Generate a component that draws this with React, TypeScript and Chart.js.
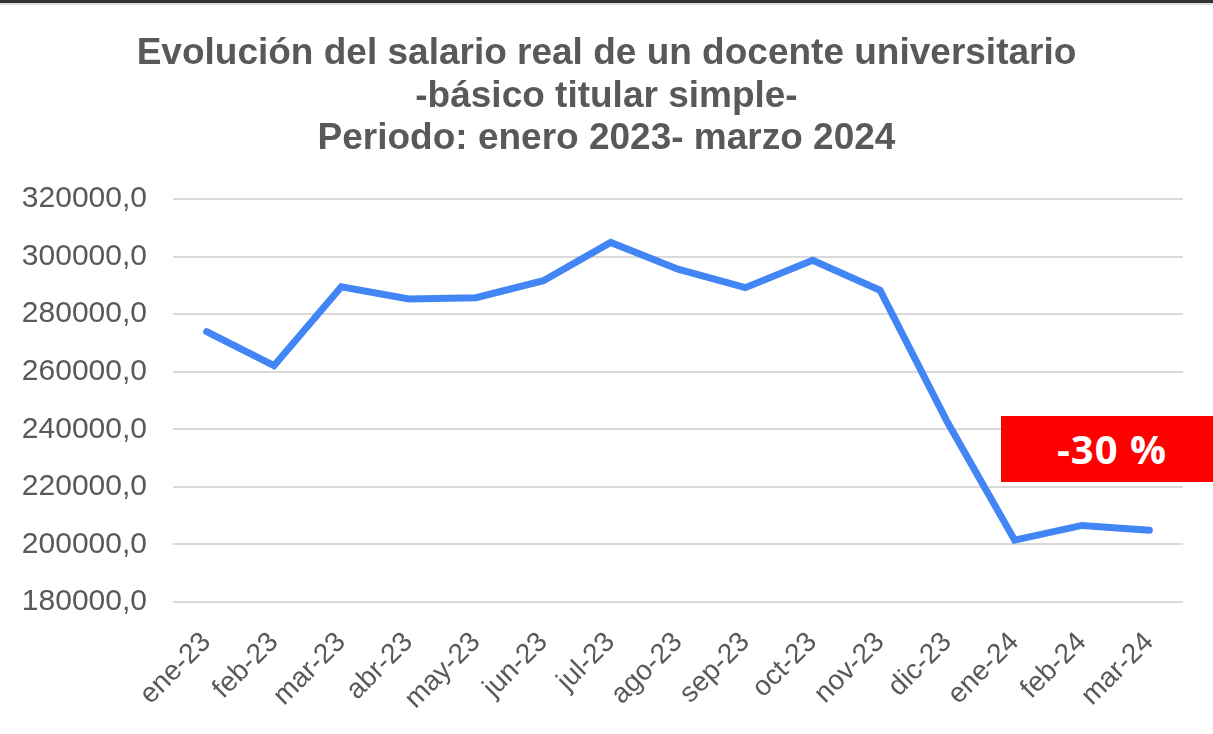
import React, { useEffect, useRef } from "react";
import { Chart, registerables } from "chart.js";

Chart.register(...registerables);

const titleLines = [
  "Evolución del salario real de un docente universitario",
  "-básico titular simple-",
  "Periodo: enero 2023- marzo 2024",
];

const categories = [
  "ene-23", "feb-23", "mar-23", "abr-23", "may-23", "jun-23", "jul-23",
  "ago-23", "sep-23", "oct-23", "nov-23", "dic-23", "ene-24", "feb-24", "mar-24",
];

const salarioReal = [
  273900, 262100, 289500, 285300, 285700, 291600, 304900,
  295600, 289200, 298700, 288300, 242500, 201500, 206600, 204900,
];

const yMin = 180000;
const yMax = 320000;
const yStep = 20000;

const annotationText = "-30 %";

export default function App() {
  const canvasRef = useRef<HTMLCanvasElement | null>(null);

  useEffect(() => {
    const canvas = canvasRef.current;
    if (!canvas) return;
    const chart = new Chart(canvas, {
      type: "line",
      data: {
        labels: categories,
        datasets: [
          {
            label: "Salario real",
            data: salarioReal,
            borderColor: "#4285f4",
            backgroundColor: "#4285f4",
            borderWidth: 7,
            pointRadius: 0,
            tension: 0,
            borderCapStyle: "round",
            borderJoinStyle: "miter",
          },
        ],
      },
      options: {
        responsive: false,
        animation: false,
        layout: { padding: { left: 0, right: 30, top: 199, bottom: 0 } },
        plugins: {
          legend: { display: false },
          tooltip: { enabled: false },
          title: { display: false },
        },
        scales: {
          x: {
            offset: true,
            grid: { display: false, drawTicks: false },
            border: { display: false },
            ticks: {
              color: "#595959",
              font: { family: "'Liberation Sans', Arial, sans-serif", size: 28 },
              minRotation: 45,
              maxRotation: 45,
              padding: 24,
              autoSkip: false,
            },
            afterFit: (scale: any) => {
              scale.height = 132;
            },
          },
          y: {
            min: yMin,
            max: yMax,
            grid: { color: "#d9d9d9", lineWidth: 2, drawTicks: false },
            border: { display: false },
            ticks: {
              stepSize: yStep,
              color: "#595959",
              font: { family: "'Liberation Sans', Arial, sans-serif", size: 30 },
              padding: 26,
              callback: (v: any) => Number(v).toFixed(1).replace(".", ","),
            },
            afterFit: (scale: any) => {
              scale.width = 173;
            },
          },
        },
      },
    });
    return () => chart.destroy();
  }, []);

  return (
    <div style={{ position: "absolute", left: 0, top: 0, width: 1213, height: 734, background: "#ffffff", overflow: "hidden" }}>
      <canvas ref={canvasRef} width={1213} height={734} style={{ display: "block" }} />
      <div style={{ position: "absolute", left: 0, top: 0, width: 1213, height: 3, background: "#333333" }} />
      <div style={{ position: "absolute", left: 0, top: 3, width: 1213, height: 2, background: "#e0e0e0" }} />
      <div
        style={{
          position: "absolute",
          left: 0,
          top: 31,
          width: 1213,
          textAlign: "center",
          color: "#595959",
          fontFamily: "'Liberation Sans', Arial, sans-serif",
          fontWeight: 700,
          fontSize: 37,
          lineHeight: "42.5px",
        }}
      >
        {titleLines.map((t, i) => (
          <div key={i}>{t}</div>
        ))}
      </div>
      <div
        style={{
          position: "absolute",
          left: 1001,
          top: 416,
          width: 212,
          height: 66,
          boxSizing: "border-box",
          paddingLeft: 10,
          background: "#ff0000",
          color: "#ffffff",
          fontFamily: "'Open Sans', sans-serif",
          fontWeight: 700,
          fontSize: 40,
          lineHeight: "66px",
          textAlign: "center",
          letterSpacing: 1,
        }}
      >
        {annotationText}
      </div>
    </div>
  );
}
